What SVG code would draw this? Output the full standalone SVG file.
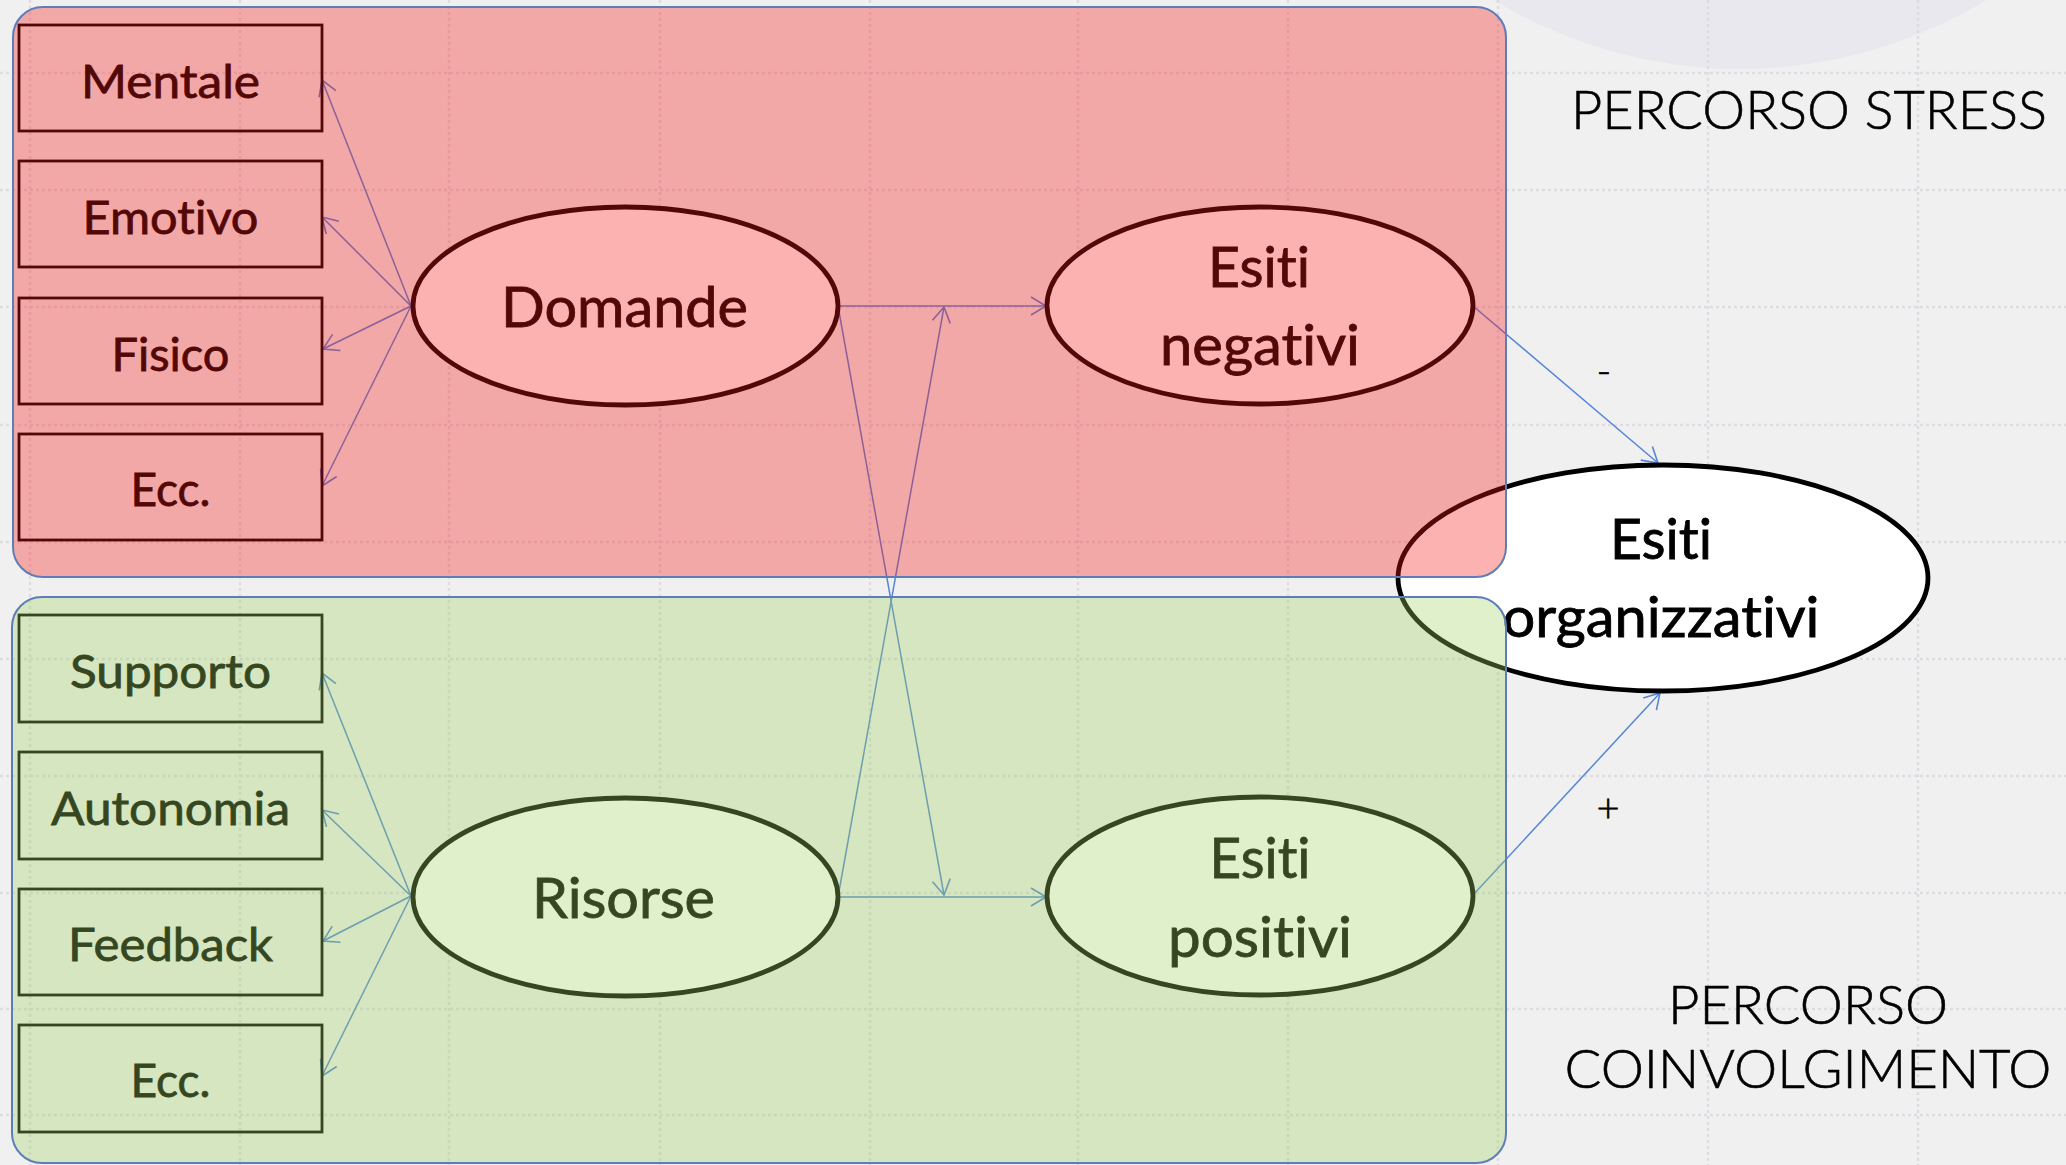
<svg xmlns="http://www.w3.org/2000/svg" width="2066" height="1165" viewBox="0 0 2066 1165">
  <defs>
    <style>
      .grid line { stroke: #dfdbe1; stroke-width: 2.5; stroke-dasharray: 3 3; }
      .conn line { stroke: #5585d8; stroke-width: 1.5; fill: none; marker-end: url(#arrow); }
      .box rect { fill: none; stroke: #000; stroke-width: 2.8; }
      .node ellipse { fill: #fff; stroke: #000; stroke-width: 4.8; }
      .lbl { font-family: Lato, "Open Sans", "Liberation Sans", sans-serif; fill: #000; stroke: #000; stroke-width: 0.8; text-anchor: middle; font-variant-ligatures: none; }
      .bt { font-size: 46.5px; }
      .et { font-size: 56px; }
      .side { font-family: Lato, "Open Sans", "Liberation Sans", sans-serif; font-weight: 300; fill: #000; stroke: #000; stroke-width: 0.6; }
      .panel rect { stroke: #5d7db8; stroke-width: 2; }
    </style>
    <marker id="arrow" markerUnits="userSpaceOnUse" markerWidth="20" markerHeight="22" refX="16" refY="10" orient="auto" overflow="visible">
      <path d="M1,1 L16,10 L1,19" fill="none" stroke="#5585d8" stroke-width="1.6"/>
    </marker>
  </defs>

  <!-- slide background -->
  <rect x="0" y="0" width="2066" height="1165" fill="#f0f0f0"/>
  <circle cx="1740" cy="-406" r="475" fill="#e8e8ee"/>

  <!-- dotted guide grid -->
  <g class="grid">
    <line x1="30" y1="0" x2="30" y2="1165"/>
    <line x1="240" y1="0" x2="240" y2="1165"/>
    <line x1="449" y1="0" x2="449" y2="1165"/>
    <line x1="660" y1="0" x2="660" y2="1165"/>
    <line x1="870" y1="0" x2="870" y2="1165"/>
    <line x1="1078" y1="0" x2="1078" y2="1165"/>
    <line x1="1288" y1="0" x2="1288" y2="1165"/>
    <line x1="1498" y1="0" x2="1498" y2="1165"/>
    <line x1="1708" y1="0" x2="1708" y2="1165"/>
    <line x1="1918" y1="0" x2="1918" y2="1165"/>
    <line x1="0" y1="73" x2="2066" y2="73"/>
    <line x1="0" y1="190" x2="2066" y2="190"/>
    <line x1="0" y1="307" x2="2066" y2="307"/>
    <line x1="0" y1="425" x2="2066" y2="425"/>
    <line x1="0" y1="542" x2="2066" y2="542"/>
    <line x1="0" y1="659" x2="2066" y2="659"/>
    <line x1="0" y1="776" x2="2066" y2="776"/>
    <line x1="0" y1="893" x2="2066" y2="893"/>
    <line x1="0" y1="1009" x2="2066" y2="1009"/>
    <line x1="0" y1="1115" x2="2066" y2="1115"/>
  </g>

  <!-- connectors -->
  <g id="connectors" class="conn">
    <line x1="411" y1="306" x2="322" y2="80"/>
    <line x1="411" y1="306" x2="322" y2="217"/>
    <line x1="411" y1="306" x2="323" y2="349"/>
    <line x1="411" y1="306" x2="322" y2="486"/>
    <line x1="411" y1="896" x2="322" y2="673"/>
    <line x1="411" y1="896" x2="322" y2="810"/>
    <line x1="411" y1="896" x2="323" y2="941"/>
    <line x1="411" y1="896" x2="322" y2="1076"/>
    <line x1="838" y1="306" x2="1046" y2="306"/>
    <line x1="838" y1="897" x2="1046" y2="897"/>
    <line x1="838" y1="306" x2="944" y2="895"/>
    <line x1="838" y1="897" x2="944" y2="307"/>
    <line x1="1473" y1="306" x2="1658" y2="463"/>
    <line x1="1473" y1="895" x2="1660" y2="693"/>
  </g>

  <!-- outcome node sitting between both paths -->
  <g id="esiti-organizzativi" class="node">
    <ellipse cx="1663" cy="578" rx="265" ry="113"/>
    <text class="lbl et" x="1661" y="559" textLength="102" lengthAdjust="spacingAndGlyphs">Esiti</text>
    <text class="lbl et" x="1661" y="637" textLength="317" lengthAdjust="spacingAndGlyphs">organizzativi</text>
  </g>

  <!-- stress path nodes -->
  <g id="mentale" class="box">
    <rect x="19" y="25" width="303" height="106"/>
    <text class="lbl bt" x="170.5" y="98" textLength="179" lengthAdjust="spacingAndGlyphs">Mentale</text>
  </g>
  <g id="emotivo" class="box">
    <rect x="19" y="161" width="303" height="106"/>
    <text class="lbl bt" x="170.5" y="234" textLength="176" lengthAdjust="spacingAndGlyphs">Emotivo</text>
  </g>
  <g id="fisico" class="box">
    <rect x="19" y="298" width="303" height="106"/>
    <text class="lbl bt" x="170.5" y="371" textLength="118" lengthAdjust="spacingAndGlyphs">Fisico</text>
  </g>
  <g id="ecc-domande" class="box">
    <rect x="19" y="434" width="303" height="106"/>
    <text class="lbl bt" x="170.5" y="506" textLength="80" lengthAdjust="spacingAndGlyphs">Ecc.</text>
  </g>
  <g id="domande" class="node">
    <ellipse cx="625.5" cy="306" rx="212.5" ry="99"/>
    <text class="lbl et" x="624.5" y="327" textLength="247" lengthAdjust="spacingAndGlyphs">Domande</text>
  </g>
  <g id="esiti-negativi" class="node">
    <ellipse cx="1260" cy="305.5" rx="213" ry="98.5"/>
    <text class="lbl et" x="1259" y="287" textLength="102" lengthAdjust="spacingAndGlyphs">Esiti</text>
    <text class="lbl et" x="1260" y="365" textLength="200" lengthAdjust="spacingAndGlyphs">negativi</text>
  </g>

  <!-- engagement path nodes -->
  <g id="supporto" class="box">
    <rect x="19" y="615" width="303" height="107"/>
    <text class="lbl bt" x="170.5" y="688" textLength="201" lengthAdjust="spacingAndGlyphs">Supporto</text>
  </g>
  <g id="autonomia" class="box">
    <rect x="19" y="752" width="303" height="107"/>
    <text class="lbl bt" x="170.5" y="825" textLength="239" lengthAdjust="spacingAndGlyphs">Autonomia</text>
  </g>
  <g id="feedback" class="box">
    <rect x="19" y="889" width="303" height="106"/>
    <text class="lbl bt" x="170.5" y="961" textLength="205" lengthAdjust="spacingAndGlyphs">Feedback</text>
  </g>
  <g id="ecc-risorse" class="box">
    <rect x="19" y="1025" width="303" height="107"/>
    <text class="lbl bt" x="170.5" y="1097" textLength="80" lengthAdjust="spacingAndGlyphs">Ecc.</text>
  </g>
  <g id="risorse" class="node">
    <ellipse cx="625.5" cy="897" rx="212.5" ry="99"/>
    <text class="lbl et" x="623.5" y="918" textLength="183" lengthAdjust="spacingAndGlyphs">Risorse</text>
  </g>
  <g id="esiti-positivi" class="node">
    <ellipse cx="1260" cy="896" rx="213" ry="99"/>
    <text class="lbl et" x="1260" y="878" textLength="101" lengthAdjust="spacingAndGlyphs">Esiti</text>
    <text class="lbl et" x="1260" y="957" textLength="184" lengthAdjust="spacingAndGlyphs">positivi</text>
  </g>

  <!-- translucent path panels laid over their nodes -->
  <g id="panel-stress" class="panel">
    <rect x="13" y="7" width="1493" height="570" rx="30" fill="rgb(248,24,24)" fill-opacity="0.333"/>
  </g>
  <g id="panel-coinvolgimento" class="panel">
    <rect x="12" y="597" width="1494" height="566" rx="30" fill="rgb(160,210,96)" fill-opacity="0.333"/>
  </g>

  <!-- path titles and signs -->
  <g id="labels">
    <text class="side" x="1571" y="129" font-size="54" textLength="476" lengthAdjust="spacingAndGlyphs">PERCORSO STRESS</text>
    <text class="side" x="1808" y="1024" font-size="54" text-anchor="middle" textLength="280" lengthAdjust="spacingAndGlyphs">PERCORSO</text>
    <text class="side" x="1808" y="1088" font-size="54" text-anchor="middle" textLength="487" lengthAdjust="spacingAndGlyphs">COINVOLGIMENTO</text>
    <text class="side" x="1604" y="385" font-size="40" text-anchor="middle">-</text>
    <text class="side" x="1608" y="822" font-size="40" text-anchor="middle">+</text>
  </g>
</svg>
